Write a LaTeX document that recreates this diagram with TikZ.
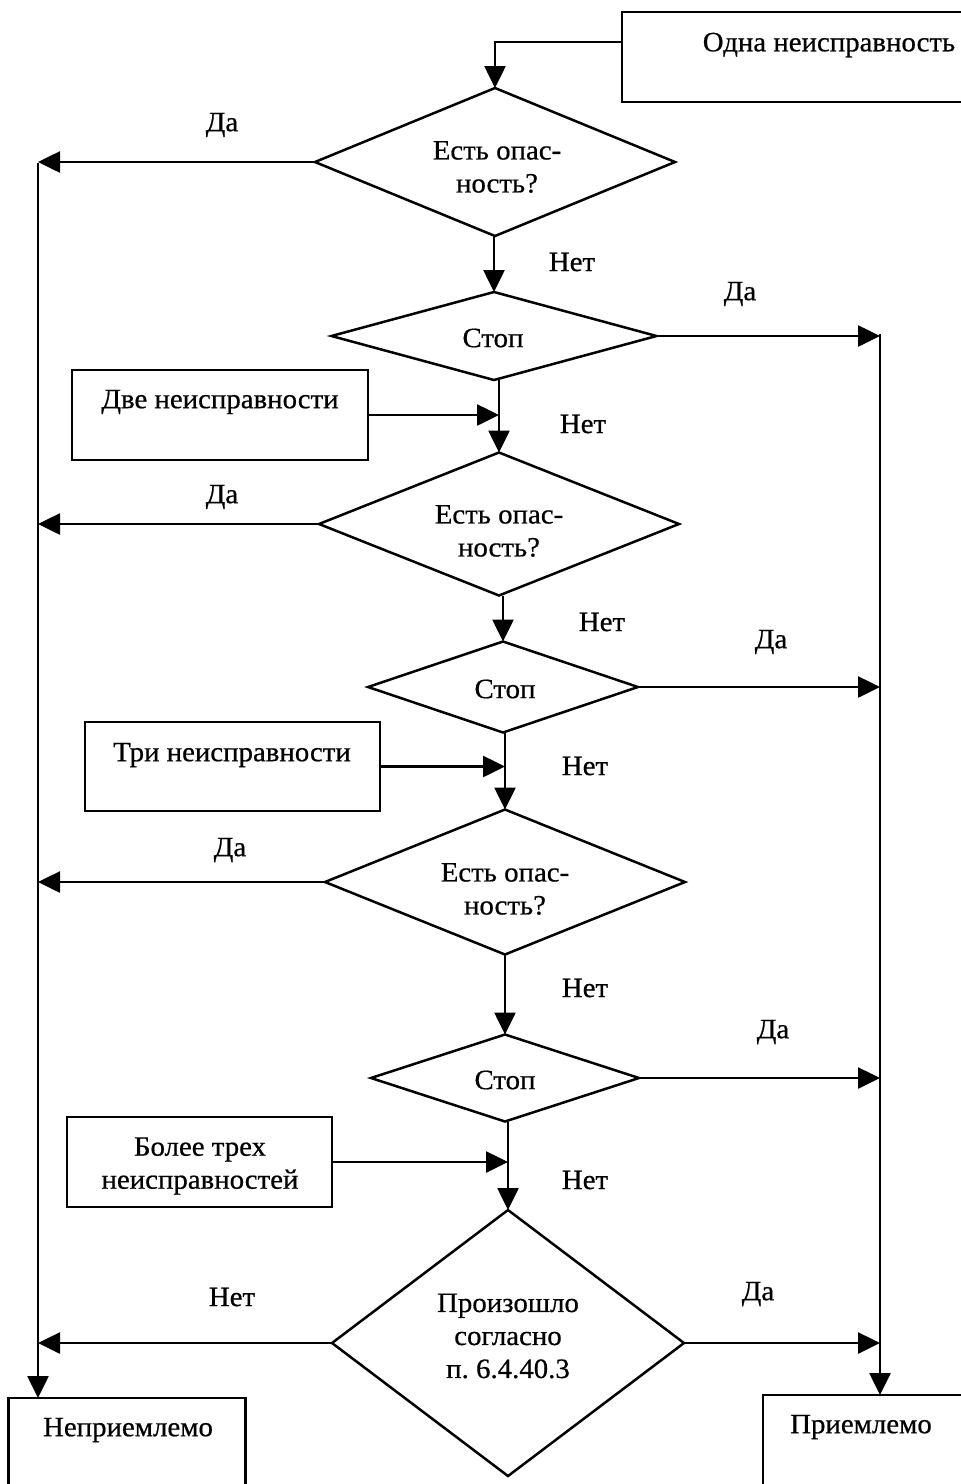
\documentclass[tikz,border=0pt]{standalone}
\usepackage{fontspec}
\setmainfont[FakeStretch=1.03,FakeBold=0.6]{Liberation Serif}
\usetikzlibrary{shapes.geometric,arrows.meta}
\frenchspacing
\begin{document}
\begin{tikzpicture}[x=1pt,y=-1pt,
  every node/.style={inner sep=0pt,outer sep=0pt},
  dia/.style={draw,diamond,line width=2.5pt,inner sep=0pt},
  boxn/.style={draw,rectangle,line width=2.5pt},
  txt/.style={font=\fontsize{28}{33}\selectfont,align=center},
  arr/.style={line width=2.6pt,-{Triangle[length=22pt,width=21pt]}},
  ln/.style={line width=2.6pt}]
\useasboundingbox (0,0) rectangle (961,1484);
\clip (0,0) rectangle (961,1484);
% boxes
\node[boxn,minimum width=378pt,minimum height=90pt] (b1) at (811,57) {};
\node[boxn,minimum width=296pt,minimum height=90pt] (b2) at (220,415) {};
\node[boxn,minimum width=295pt,minimum height=89pt] (b3) at (232.5,766.5) {};
\node[boxn,minimum width=265pt,minimum height=90pt] (b4) at (199.5,1162) {};
\node[boxn,minimum width=237pt,minimum height=102pt] (nep) at (127,1449) {};
\node[boxn,minimum width=237pt,minimum height=105pt] (pri) at (881.5,1447.5) {};
% diamonds
\node[dia,minimum width=360pt,minimum height=148pt] (d1) at (495,162) {};
\node[dia,minimum width=325pt,minimum height=88pt] (d2) at (494,336) {};
\node[dia,minimum width=360pt,minimum height=143pt] (d3) at (499,524) {};
\node[dia,minimum width=270pt,minimum height=91pt] (d4) at (503,687) {};
\node[dia,minimum width=360pt,minimum height=145pt] (d5) at (505,882) {};
\node[dia,minimum width=268pt,minimum height=87pt] (d6) at (505,1078) {};
\node[dia,minimum width=352pt,minimum height=266pt] (d7) at (508,1343) {};
% texts
\node[txt] (t1) at (829,45) {Одна неисправность};
\node[txt] (t2) at (220,402) {Две неисправности};
\node[txt] (t3) at (232,755) {Три неисправности};
\node[txt] (t4) at (200,1166) {Более трех\\неисправностей};
\node[txt] (t5) at (128,1430) {Неприемлемо};
\node[txt] (t6) at (861,1427) {Приемлемо};
\node[txt] (q1) at (497,167) {Есть опас-\\ность?};
\node[txt] (q2) at (493,338) {Стоп};
\node[txt] (q3) at (499,531) {Есть опас-\\ность?};
\node[txt] (q4) at (505,689) {Стоп};
\node[txt] (q5) at (505,889) {Есть опас-\\ность?};
\node[txt] (q6) at (505,1080) {Стоп};
\node[txt] (q7) at (508,1336) {Произошло\\согласно\\п. 6.4.40.3};
% labels
\node[txt] (l1) at (222,125) {Да};
\node[txt] (l2) at (572,262) {Нет};
\node[txt] (l3) at (740,294) {Да};
\node[txt] (l4) at (583,424) {Нет};
\node[txt] (l5) at (222,497) {Да};
\node[txt] (l6) at (602,622) {Нет};
\node[txt] (l7) at (771,642) {Да};
\node[txt] (l8) at (585,766) {Нет};
\node[txt] (l9) at (230,850) {Да};
\node[txt] (l10) at (585,988) {Нет};
\node[txt] (l11) at (773,1032) {Да};
\node[txt] (l12) at (585,1180) {Нет};
\node[txt] (l13) at (232,1297) {Нет};
\node[txt] (l14) at (758,1294) {Да};
% spines
\coordinate (Ltop) at (38,163);
\coordinate (Rtop) at (880,334);
\coordinate (c42) at (0,42);
\draw[arr] (Ltop) -- (Ltop |- nep.north);
\draw[arr] (Rtop) -- (Rtop |- pri.north);
% connectors
\draw[arr] (b1.west |- c42) -| (d1.north);
\draw[arr] (d1.south -| d2.north) -- (d2.north);
\draw[arr] (d2.south -| d3.north) -- (d3.north);
\draw[arr] (d3.south -| d4.north) -- (d4.north);
\draw[arr] (d4.south -| d5.north) -- (d5.north);
\draw[arr] (d5.south -| d6.north) -- (d6.north);
\draw[arr] (d6.south -| d7.north) -- (d7.north);
\draw[arr] (b2.east) -- (b2.east -| d3.north);
\draw[arr] (b3.east) -- (b3.east -| d5.north);
\draw[arr] (b4.east) -- (b4.east -| d7.north);
\draw[arr] (d1.west) -- (d1.west -| Ltop);
\draw[arr] (d3.west) -- (d3.west -| Ltop);
\draw[arr] (d5.west) -- (d5.west -| Ltop);
\draw[arr] (d7.west) -- (d7.west -| Ltop);
\draw[arr] (d2.east) -- (d2.east -| Rtop);
\draw[arr] (d4.east) -- (d4.east -| Rtop);
\draw[arr] (d6.east) -- (d6.east -| Rtop);
\draw[arr] (d7.east) -- (d7.east -| Rtop);
\end{tikzpicture}
\end{document}
